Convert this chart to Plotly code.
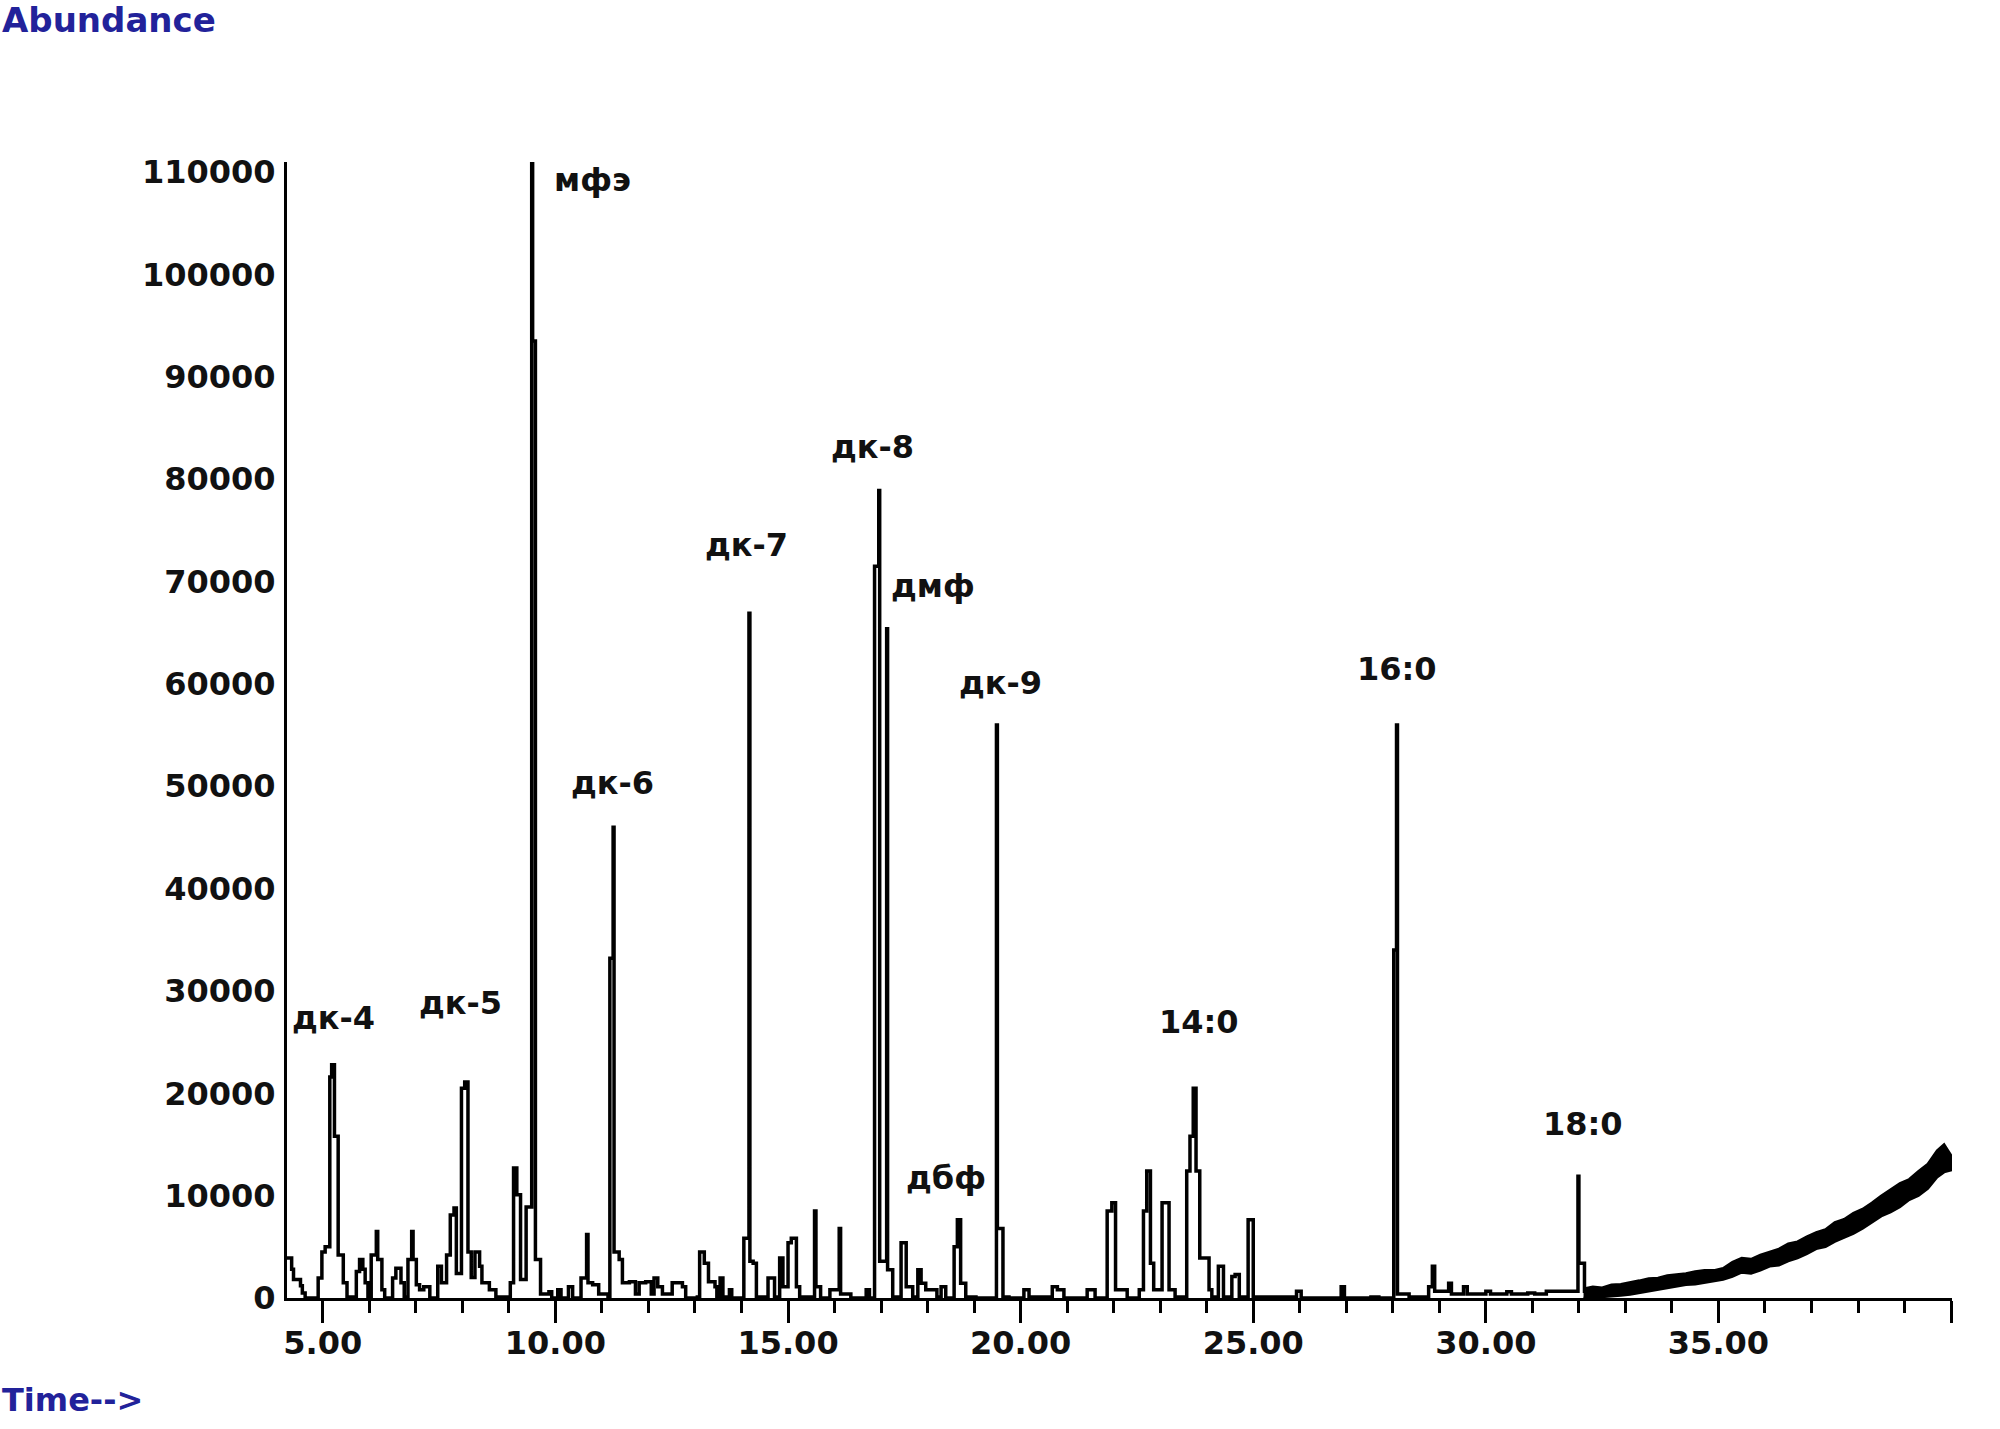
import plotly.graph_objects as go

# ---------------- data ----------------
time_min = [
    4.23, 4.33, 4.37, 4.52, 4.56, 4.62, 4.90, 4.98, 5.05, 5.15, 5.19, 5.25, 5.33, 5.44, 5.52,
    5.72, 5.79, 5.86, 5.91, 5.97, 6.04, 6.15, 6.18, 6.27, 6.33, 6.50, 6.57, 6.68, 6.75,
    6.83, 6.91, 6.94, 7.01, 7.08, 7.17, 7.30, 7.47, 7.55, 7.66, 7.74, 7.82, 7.87, 7.98,
    8.05, 8.12, 8.19, 8.27, 8.37, 8.42, 8.58, 8.72, 9.03, 9.10, 9.17, 9.25, 9.37, 9.49,
    9.51, 9.57, 9.68, 9.86, 9.92, 10.05, 10.12, 10.28, 10.37, 10.55, 10.67, 10.70, 10.80,
    10.93, 11.13, 11.17, 11.24, 11.26, 11.37, 11.44, 11.59, 11.72, 11.80, 11.94, 12.06,
    12.12, 12.20, 12.30, 12.51, 12.73, 12.80, 13.05, 13.10, 13.20, 13.29, 13.43, 13.47,
    13.54, 13.60, 13.74, 13.79, 14.05, 14.16, 14.18, 14.25, 14.32, 14.57, 14.71, 14.82,
    14.89, 15.00, 15.07, 15.18, 15.25, 15.57, 15.60, 15.70, 15.90, 16.10, 16.13, 16.35,
    16.68, 16.75, 16.86, 16.95, 16.97, 17.12, 17.14, 17.25, 17.43, 17.54, 17.68, 17.79,
    17.86, 17.96, 18.20, 18.29, 18.39, 18.57, 18.64, 18.71, 18.82, 19.04, 19.48, 19.50,
    19.62, 19.75, 20.07, 20.18, 20.68, 20.79, 20.93, 21.43, 21.60, 21.86, 21.96, 22.04,
    22.29, 22.55, 22.64, 22.71, 22.79, 22.86, 23.04, 23.19, 23.32, 23.57, 23.64, 23.71,
    23.77, 23.85, 24.05, 24.11, 24.25, 24.36, 24.54, 24.61, 24.70, 24.89, 25.00, 25.53,
    25.93, 26.03, 26.89, 26.96, 27.53, 27.70, 28.02, 28.08, 28.10, 28.35, 28.77, 28.85,
    28.90, 29.20, 29.26, 29.52, 29.60, 30.00, 30.10, 30.45, 30.55, 30.90, 31.05, 31.30,
    31.98, 32.00, 32.12, 32.30,
]
abundance = [
    3900, 2800, 1800, 1200, 500, 0, 1950, 4500, 5000, 21600, 22800, 15800, 4200, 1500, 100,
    2600, 3750, 2800, 1500, 100, 4200, 6500, 3750, 800, 0, 1950, 2900, 1500, 100,
    3750, 6500, 3750, 1300, 800, 1100, 0, 3100, 1500, 4200, 8100, 8800, 2400, 20500,
    21100, 4500, 2000, 4500, 3100, 1500, 800, 100, 1500, 12700, 10100, 1800, 8900, 112000,
    93500, 3750, 400, 600, 0, 800, 0, 1100, 0, 1950, 6200, 1500, 1300,
    400, 100, 33200, 46000, 4500, 3750, 1500, 1600, 400, 1500, 1600, 400,
    1950, 1100, 400, 1500, 1100, 0, 100, 4500, 3400, 1600, 1100, 0,
    1950, 100, 800, 0, 5850, 66900, 3600, 3400, 100, 1950, 100, 3900,
    1100, 5400, 5850, 1100, 100, 8500, 1100, 0, 800, 6800, 400, 0,
    800, 0, 71500, 78900, 3600, 65400, 2770, 100, 5400, 1100, 100, 2770,
    1450, 800, 100, 1100, 0, 5000, 7650, 1450, 100, 0, 56000, 6800,
    100, 0, 800, 100, 1100, 800, 0, 800, 0, 8500, 9300, 800,
    0, 800, 8500, 12400, 3400, 800, 9300, 800, 100, 12400, 15800, 20500,
    12400, 3900, 800, 100, 3100, 100, 2100, 2300, 100, 7650, 100, 100,
    650, 0, 1100, 0, 100, 0, 34000, 56000, 400, 100, 1100, 3100,
    650, 1450, 400, 1100, 400, 650, 400, 600, 400, 500, 400, 650,
    11900, 3400, 650, 800,
]

# rising, noisy baseline at the end of the run (lower and upper edge of the band)
drift_time = [32.1, 32.3, 32.5, 32.7, 32.9, 33.1, 33.3, 33.5, 33.7, 33.9, 34.1, 34.3, 34.5,
              34.7, 34.9, 35.1, 35.3, 35.5, 35.7, 35.9, 36.1, 36.3, 36.5, 36.7, 36.9, 37.1,
              37.3, 37.5, 37.7, 37.9, 38.1, 38.3, 38.5, 38.7, 38.9, 39.1, 39.3, 39.5, 39.7,
              39.85, 40.02]
drift_low = [0, 0, 100, 150, 250, 350, 500, 700, 800, 1000, 1100, 1300, 1350,
             1500, 1700, 1800, 2100, 2500, 2400, 2700, 3100, 3200, 3600, 3900, 4300, 4800,
             5000, 5500, 5900, 6300, 6800, 7400, 8000, 8400, 8900, 9600, 10000, 10700, 11800,
             12300, 12500]
drift_high = [900, 1100, 1000, 1300, 1350, 1500, 1700, 1900, 1950, 2200, 2300, 2400, 2600,
              2700, 2700, 2900, 3500, 3900, 3800, 4200, 4500, 4800, 5300, 5500, 6000, 6400,
              6700, 7400, 7700, 8300, 8700, 9300, 10000, 10600, 11200, 11600, 12400, 13100, 14400,
              15000, 13800]

# peak labels
peak_names = ["дк-4", "дк-5", "мфэ", "дк-6", "дк-7", "дк-8", "дмф", "дбф", "дк-9", "14:0", "16:0", "18:0"]
peak_label_time = [5.24, 7.97, 10.79, 11.22, 14.10, 16.81, 18.12, 18.40, 19.56, 23.84, 28.09, 32.09]
peak_label_abund = [27350, 28800, 109200, 50300, 73600, 83200, 69600, 11700, 60060, 26950, 61500, 17000]

# axis ticks
x_tick_vals = [5, 10, 15, 20, 25, 30, 35, 40]
x_tick_text = ["5.00", "10.00", "15.00", "20.00", "25.00", "30.00", "35.00", ""]
y_tick_vals = [0, 10000, 20000, 30000, 40000, 50000, 60000, 70000, 80000, 90000, 100000, 110000]
y_tick_text = ["0", "10000", "20000", "30000", "40000", "50000", "60000", "70000",
               "80000", "90000", "100000", "110000"]

# ---------------- figure ----------------
FONT = "DejaVu Sans"
fig = go.Figure()

fig.add_trace(go.Scatter(
    x=time_min, y=abundance, mode="lines", line=dict(color="black", width=3.5, shape="hv"),
    hoverinfo="skip", showlegend=False))

fig.add_trace(go.Scatter(
    x=drift_time, y=drift_low, mode="lines", line=dict(color="black", width=2.5),
    hoverinfo="skip", showlegend=False))
fig.add_trace(go.Scatter(
    x=drift_time, y=drift_high, mode="lines", line=dict(color="black", width=2.5),
    fill="tonexty", fillcolor="black", hoverinfo="skip", showlegend=False))

for name, t, a in zip(peak_names, peak_label_time, peak_label_abund):
    fig.add_annotation(x=t, y=a, xref="x", yref="y", text=name, showarrow=False,
                       xanchor="center", yanchor="middle",
                       font=dict(family=FONT, size=32, color="#111111", weight="bold"))

W, H = 2000, 1429
L, R, T, B = 287, 48, 162, 131
pw, ph = W - L - R, H - T - B

fig.add_annotation(x=(0 - L) / pw, y=(H - B - 20) / ph, xref="paper", yref="paper",
                   text="Abundance", showarrow=False, xanchor="left", yanchor="middle",
                   font=dict(family=FONT, size=34, color="#22229a", weight="bold"))
fig.add_annotation(x=(0 - L) / pw, y=(H - B - 1400) / ph, xref="paper", yref="paper",
                   text="Time-->", showarrow=False, xanchor="left", yanchor="middle",
                   font=dict(family=FONT, size=32, color="#22229a", weight="bold"))

fig.update_layout(
    width=W, height=H,
    margin=dict(l=L, r=R, t=T, b=B, pad=0),
    paper_bgcolor="white", plot_bgcolor="white",
    showlegend=False,
    xaxis=dict(
        range=[4.23, 40.02], showgrid=False, zeroline=False,
        showline=True, linecolor="black", linewidth=3,
        tickmode="array", tickvals=x_tick_vals, ticktext=x_tick_text,
        ticks="outside", ticklen=22, tickwidth=3, tickcolor="black",
        ticklabelstandoff=-7,
        tickfont=dict(family=FONT, size=32, color="#111111", weight="bold"),
        minor=dict(tickmode="linear", tick0=0, dtick=1, ticks="outside",
                   ticklen=12, tickwidth=3, tickcolor="black", showgrid=False),
    ),
    yaxis=dict(
        range=[0, 111000], showgrid=False, zeroline=False,
        showline=True, linecolor="black", linewidth=3,
        tickmode="array", tickvals=y_tick_vals, ticktext=y_tick_text,
        ticks="", ticklabelstandoff=2,
        tickfont=dict(family=FONT, size=32, color="#111111", weight="bold"),
    ),
)

fig.write_html("out.html")
